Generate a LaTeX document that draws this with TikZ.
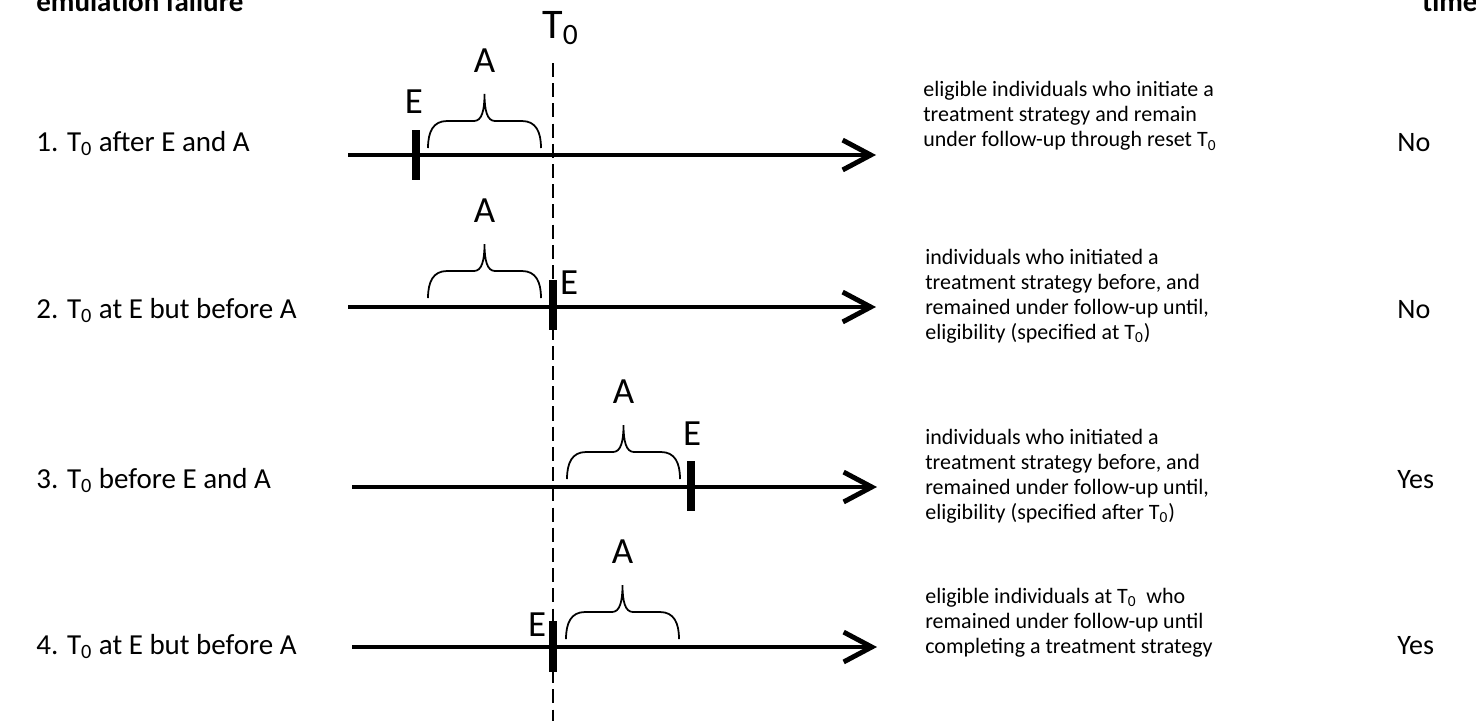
\documentclass[tikz,border=0pt]{standalone}
\usepackage{fontspec}
\setmainfont{Carlito}
\usepackage{tikz}
\usetikzlibrary{arrows.meta,positioning}

\tikzset{
    abrace/.pic={
        \draw[bracket] (0,0) .. controls (0,-16) and (5,-27) .. (19,-27) -- (46,-27)
            .. controls (54,-27) and (56.5,-38) .. (56.5,-54)
            .. controls (56.5,-38) and (59,-27) .. (67,-27) -- (94,-27)
            .. controls (108,-27) and (113,-16) .. (113,0);
        \node[tag, anchor=base] (-lab) at (56.5,-76) {A};
    }
}

\begin{document}
\begin{tikzpicture}[
    x=0.02cm, y=-0.02cm,
    timeline/.style={line width=2.8pt, -{Straight Barb[length=16pt,width=17pt]}},
    event/.style={line width=4pt},
    zeroline/.style={line width=1.1pt, dash pattern=on 8pt off 3.5pt},
    bracket/.style={line width=1pt},
    head/.style={anchor=base west, inner sep=0pt, font=\fontsize{16.5}{20}\selectfont\bfseries},
    rowlabel/.style={anchor=base west, inner sep=0pt, font=\fontsize{16.5}{20}\selectfont},
    desc/.style={anchor=west, align=left, inner sep=0pt, font=\fontsize{12.5}{14.3}\selectfont},
    answer/.style={anchor=base west, inner sep=0pt, font=\fontsize{16}{19}\selectfont},
    tag/.style={inner sep=0pt, font=\fontsize{21}{24}\selectfont}
]
\clip (0,0) rectangle (1476,721);

% Headings (cut by the frame)
\node[head] (hfail) at (36,11) {emulation failure};
\node[head] (htime) at (1422,11) {time};

% Time zero
\node[anchor=base west, inner sep=0pt, font=\fontsize{24}{28}\selectfont] (T0) at (542,38) {T\textsubscript{0}};
\coordinate (ztop) at (553,63);
\coordinate (zbot) at (553,721);
\draw[zeroline] (ztop) -- (zbot);

% Row 1
\node[rowlabel] (lab1) at (36,151) {1. T\textsubscript{0} after E and A};
\coordinate (s1) at (348,155);
\coordinate (e1) at (876,155);
\draw[timeline] (s1) -- (e1);
\draw[event] (416,130) -- (416,180);
\node[tag] (E1) at (414,102) {E};
\pic (A1) at (428,148) {abrace};
\node[desc] (desc1) at (923,116) {eligible individuals who initiate a\\treatment strategy and remain\\under follow-up through reset T\textsubscript{0}};
\node[answer] (ans1) at (1397,151) {No};

% Row 2
\node[rowlabel] (lab2) at (36,318) {2. T\textsubscript{0} at E but before A};
\coordinate (s2) at (348,307);
\coordinate (e2) at (876,307);
\draw[timeline] (s2) -- (e2);
\draw[event] (553,280) -- (553,330);
\node[tag] (E2) at (569,283) {E};
\pic (A2) at (428,298) {abrace};
\node[desc] (desc2) at (925,296) {individuals who initiated a\\treatment strategy before, and\\remained under follow-up until,\\eligibility (specified at T\textsubscript{0})};
\node[answer] (ans2) at (1397,318) {No};

% Row 3
\node[rowlabel] (lab3) at (36,488) {3. T\textsubscript{0} before E and A};
\coordinate (s3) at (352,487);
\coordinate (e3) at (877,487);
\draw[timeline] (s3) -- (e3);
\draw[event] (691,461) -- (691,511);
\node[tag] (E3) at (692,434) {E};
\pic (A3) at (567,479) {abrace};
\node[desc] (desc3) at (925,476) {individuals who initiated a\\treatment strategy before, and\\remained under follow-up until,\\eligibility (specified after T\textsubscript{0})};
\node[answer] (ans3) at (1397,488) {Yes};

% Row 4
\node[rowlabel] (lab4) at (36,654) {4. T\textsubscript{0} at E but before A};
\coordinate (s4) at (352,647);
\coordinate (e4) at (877,647);
\draw[timeline] (s4) -- (e4);
\draw[event] (553,621) -- (553,672);
\node[tag] (E4) at (537,625) {E};
\pic (A4) at (566,639) {abrace};
\node[desc] (desc4) at (925,623) {eligible individuals at T\textsubscript{0}\ \ who\\remained under follow-up until\\completing a treatment strategy};
\node[answer] (ans4) at (1397,654) {Yes};

\end{tikzpicture}
\end{document}
